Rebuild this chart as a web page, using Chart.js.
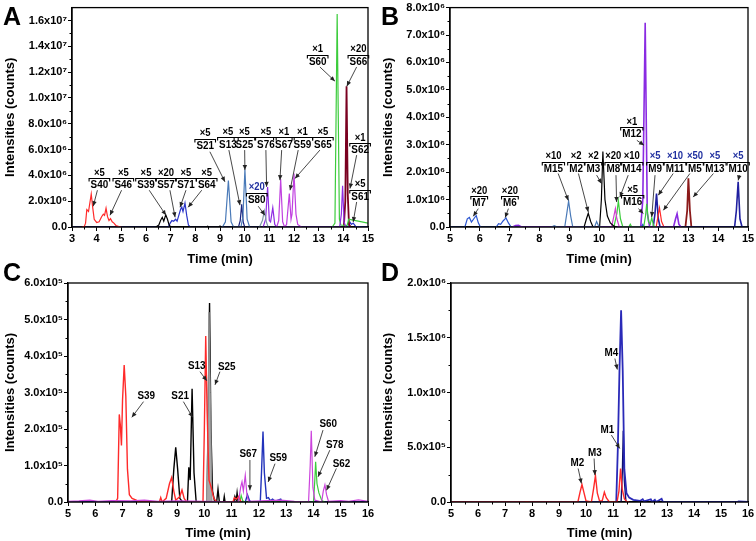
<!DOCTYPE html>
<html><head><meta charset="utf-8">
<script src="https://cdn.jsdelivr.net/npm/chart.js@4.4.1/dist/chart.umd.min.js"></script>
<style>
html,body{margin:0;padding:0;background:#fff;width:756px;height:541px;overflow:hidden}
.p{position:absolute}
.lt{position:absolute;font:bold 25px "Liberation Sans",Arial,sans-serif;color:#000;line-height:1}
</style></head><body>
<div class="p" style="left:0;top:0;width:378px;height:270px"><canvas id="cA" width="378" height="270"></canvas></div>
<div class="p" style="left:378px;top:0;width:378px;height:270px"><canvas id="cB" width="378" height="270"></canvas></div>
<div class="p" style="left:0;top:270px;width:378px;height:271px"><canvas id="cC" width="378" height="271"></canvas></div>
<div class="p" style="left:378px;top:270px;width:378px;height:271px"><canvas id="cD" width="378" height="271"></canvas></div>
<div class="lt" style="left:3px;top:4px">A</div>
<div class="lt" style="left:381px;top:4px">B</div>
<div class="lt" style="left:3px;top:260px">C</div>
<div class="lt" style="left:381px;top:260px">D</div>
<script>
// ---------- Panel A data (time min, intensity counts) ----------
const A_xTicks = [3,4,5,6,7,8,9,10,11,12,13,14,15];
const A_yTicks = [0,2e6,4e6,6e6,8e6,1e7,1.2e7,1.4e7,1.6e7];
const A_yLabels = ['0.0','2.0x10⁶','4.0x10⁶','6.0x10⁶','8.0x10⁶','1.0x10⁷','1.2x10⁷','1.4x10⁷','1.6x10⁷'];
const A_red = [[3.4,0],[3.5,0.05e6],[3.55,0.3e6],[3.6,1.35e6],[3.67,1.2e6],[3.78,2.55e6],[3.84,1.5e6],[3.9,0.6e6],[4.0,0.35e6],[4.1,0.4e6],[4.2,0.8e6],[4.27,1.0e6],[4.32,0.9e6],[4.38,1.45e6],[4.44,0.8e6],[4.5,0.5e6],[4.56,0.65e6],[4.63,0.4e6],[4.7,0.3e6],[4.78,0.12e6],[4.9,0.03e6],[5.0,0]];
const A_black = [[6.4,0],[6.52,0.15e6],[6.6,0.55e6],[6.66,0.75e6],[6.72,0.45e6],[6.8,0.95e6],[6.87,0.6e6],[6.93,0.2e6],[7.0,0],[8.45,0],[8.5,0.06e6],[8.55,0],[8.95,0],[9.0,0.07e6],[9.05,0]];
const A_steel = [[9.1,0],[9.22,0.4e6],[9.34,3.6e6],[9.45,0.4e6],[9.55,0],[9.85,0],[9.93,0.8e6],[10.01,4.45e6],[10.1,0.6e6],[10.2,0]];
const A_navy = [[9.75,0],[9.82,0.5e6],[9.88,1.75e6],[9.94,0.4e6],[10.0,0]];
const A_gray = [[10.6,0],[10.72,0.5e6],[10.8,1.25e6],[10.88,0.4e6],[10.95,0]];
const A_purple = [[10.75,0],[10.85,0.6e6],[10.93,3.1e6],[11.0,0.5e6],[11.05,0.4e6],[11.14,1.5e6],[11.22,0.2e6],[11.3,0],[13.85,0],[13.92,1.0e6],[13.97,3.2e6],[14.03,0.4e6],[14.1,0]];
const A_magenta = [[11.3,0],[11.38,0.5e6],[11.46,3.7e6],[11.54,0.4e6],[11.62,0],[11.7,0.2e6],[11.81,2.6e6],[11.88,0.6e6],[11.92,1.0e6],[12.0,4.15e6],[12.08,1.0e6],[12.15,0.2e6],[12.3,0]];
const A_green = [[13.55,0],[13.66,0.3e6],[13.75,1.65e7],[13.84,0.6e6],[13.9,0.15e6],[14.15,0.1e6],[14.22,0.6e6],[14.35,0.55e6],[14.6,0.45e6],[15,0.3e6]];
const A_darkred = [[14.02,0],[14.08,2e6],[14.13,1.09e7],[14.18,2.5e6],[14.23,0.2e6],[14.3,0]];
const A_blue = [[3,0],[6.9,0],[6.98,0.3e6],[7.05,0.5e6],[7.12,0.45e6],[7.2,0.6e6],[7.26,0.45e6],[7.33,0.9e6],[7.4,1.35e6],[7.45,1.55e6],[7.5,1.2e6],[7.58,1.85e6],[7.65,0.9e6],[7.72,0.15e6],[7.8,0],[14.2,0],[14.28,0.35e6],[14.33,0.2e6],[14.4,0.3e6],[14.5,0.05e6],[15,0]];
// labels: name, multiplier, label point, arrow start, arrow tip (data units), multiplier colour
const A_notes = [
 ['S40','×5',4.11,3.24e6,4.03,2.85e6,3.86,1.61e6],
 ['S46','×5',5.08,3.24e6,5.01,2.85e6,4.54,0.91e6],
 ['S39','×5',6.0,3.24e6,6.13,2.85e6,6.81,0.91e6],
 ['S57','×20',6.81,3.24e6,6.97,2.85e6,7.18,0.75e6],
 ['S71','×5',7.62,3.24e6,7.62,2.85e6,7.38,1.53e6],
 ['S64','×5',8.46,3.24e6,8.26,2.85e6,7.71,1.53e6],
 ['S21','×5',8.40,6.29e6,8.59,5.83e6,9.20,3.50e6],
 ['S13','×5',9.32,6.40e6,9.36,5.96e6,9.81,1.69e6],
 ['S25','×5',9.99,6.40e6,10.0,5.96e6,10.01,4.41e6],
 ['S76','×5',10.86,6.40e6,10.86,5.96e6,10.89,3.11e6],
 ['S67','×1',11.59,6.40e6,11.50,5.96e6,11.43,3.63e6],
 ['S59','×1',12.34,6.40e6,12.17,5.96e6,11.84,2.85e6],
 ['S65','×5',13.17,6.40e6,13.05,5.96e6,12.04,3.76e6],
 ['S80','×20',10.49,2.13e6,10.55,1.61e6,10.82,0.91e6,'#2030a0'],
 ['S62','×1',14.68,5.96e6,14.54,5.57e6,14.27,2.98e6],
 ['S61','×5',14.68,2.33e6,14.54,1.94e6,14.40,0.39e6],
 ['S60','×1',12.96,1.28e7,13.05,1.24e7,13.66,1.13e7],
 ['S66','×20',14.61,1.28e7,14.54,1.24e7,14.14,1.09e7]
];

// ---------- Panel B data ----------
const B_xTicks = [5,6,7,8,9,10,11,12,13,14,15];
const B_yTicks = [0,1e6,2e6,3e6,4e6,5e6,6e6,7e6,8e6];
const B_yLabels = ['0.0','1.0x10⁶','2.0x10⁶','3.0x10⁶','4.0x10⁶','5.0x10⁶','6.0x10⁶','7.0x10⁶','8.0x10⁶'];
const B_steel = [[8.4,0],[8.5,0.05e6],[8.6,0],[8.85,0],[8.92,0.5e6],[8.98,0.95e6],[9.05,0.4e6],[9.12,0],[9.85,0],[9.92,0.2e6],[9.98,0.05e6],[10.05,0]];
const B_black = [[9.5,0],[9.58,0.3e6],[9.64,0.5e6],[9.72,0.2e6],[9.8,0],[10.02,0],[10.08,1.0e6],[10.13,2.75e6],[10.2,1.0e6],[10.28,0.4e6],[10.38,0.15e6],[10.5,0.03e6],[10.6,0]];
const B_magenta = [[10.42,0],[10.5,0.4e6],[10.55,0.67e6],[10.6,0.3e6],[10.68,0]];
const B_green = [[10.5,0],[10.6,0.5e6],[10.65,0.95e6],[10.72,0.3e6],[10.8,0],[11.0,0],[11.05,0.1e6],[11.1,0],[11.5,0],[11.56,0.4e6],[11.6,0.85e6],[11.66,0.2e6],[11.72,0.1e6],[11.77,0.34e6],[11.83,0.05e6],[11.9,0]];
const B_purple = [[7.1,0],[7.2,0.05e6],[7.3,0.06e6],[7.4,0],[11.4,0],[11.47,1.0e6],[11.55,7.45e6],[11.62,0.5e6],[11.7,0],[12.5,0],[12.57,0.3e6],[12.62,0.48e6],[12.68,0.1e6],[12.75,0]];
const B_red = [[11.92,0],[11.98,0.4e6],[12.03,0.7e6],[12.1,0.2e6],[12.18,0]];
const B_navy = [[11.82,0],[11.88,0.5e6],[11.93,1.22e6],[11.99,0.3e6],[12.05,0],[14.55,0],[14.61,0.6e6],[14.67,1.65e6],[14.73,0.3e6],[14.8,0]];
const B_darkred = [[12.9,0],[12.96,0.6e6],[13.0,1.78e6],[13.05,0.6e6],[13.1,0]];
const B_blue = [[5,0],[5.5,0],[5.58,0.3e6],[5.65,0.35e6],[5.72,0.18e6],[5.8,0.3e6],[5.88,0.42e6],[5.95,0.15e6],[6.02,0],[6.55,0],[6.63,0.12e6],[6.7,0.1e6],[6.78,0.22e6],[6.88,0.33e6],[6.96,0.15e6],[7.05,0],[11.4,0],[11.47,0.1e6],[11.52,0],[15,0]];
const B_notes = [
 ['M7','×20',5.98,0.876e6,5.95,0.67e6,5.78,0.39e6],
 ['M6','×20',7.01,0.876e6,6.96,0.67e6,6.85,0.34e6],
 ['M15','×10',8.47,2.13e6,8.63,1.95e6,8.97,0.97e6],
 ['M2','×2',9.23,2.13e6,9.31,1.95e6,9.64,0.55e6],
 ['M3','×2',9.81,2.13e6,9.92,1.89e6,10.09,1.58e6],
 ['M8','×20',10.48,2.13e6,10.57,1.89e6,10.59,0.91e6],
 ['M14','×10',11.10,2.13e6,10.98,1.89e6,10.70,1.09e6],
 ['M16','×5',11.13,0.91e6,11.32,0.67e6,11.49,0.49e6],
 ['M12','×1',11.10,3.38e6,11.27,3.16e6,11.51,2.98e6],
 ['M9','×5',11.88,2.13e6,11.88,1.89e6,11.77,0.365e6,'#2030a0'],
 ['M11','×10',12.55,2.13e6,12.49,1.95e6,11.99,1.16e6,'#2030a0'],
 ['M5','×50',13.22,2.13e6,13.05,1.95e6,12.16,0.61e6,'#2030a0'],
 ['M13','×5',13.89,2.13e6,13.84,1.95e6,13.16,1.09e6,'#2030a0'],
 ['M10','×5',14.67,2.13e6,14.71,1.89e6,14.67,1.70e6,'#2030a0']
];

// ---------- Panel C data ----------
const C_xTicks = [5,6,7,8,9,10,11,12,13,14,15,16];
const C_yTicks = [0,1e5,2e5,3e5,4e5,5e5,6e5];
const C_yLabels = ['0.0','1.0x10⁵','2.0x10⁵','3.0x10⁵','4.0x10⁵','5.0x10⁵','6.0x10⁵'];
const C_magenta = [[5,0.02e5],[5.4,0.03e5],[5.8,0.05e5],[6.1,0.02e5],[6.6,0.04e5],[7.3,0.03e5],[7.8,0.05e5],[8.3,0.02e5],[9.0,0.03e5],[10.0,0.02e5],[11.25,0],[11.33,0.4e5],[11.38,0.55e5],[11.43,0.3e5],[11.5,0.73e5],[11.56,0.2e5],[11.62,0.02e5],[12.8,0.05e5],[13.3,0.02e5],[13.82,0],[13.88,1.0e5],[13.92,1.95e5],[13.98,0.4e5],[14.05,0.05e5],[14.3,0],[14.36,0.3e5],[14.42,0.47e5],[14.48,0.2e5],[14.55,0.02e5],[15.0,0.04e5],[15.3,0.02e5],[15.65,0.06e5],[16,0.02e5]];
const C_red = [[6.75,0],[6.82,0.1e5],[6.88,2.4e5],[6.92,2.1e5],[6.96,1.55e5],[7.0,2.8e5],[7.06,3.75e5],[7.12,2.9e5],[7.18,0.9e5],[7.25,0.2e5],[7.35,0.1e5],[7.5,0.05e5],[7.6,0],[8.35,0],[8.4,0.12e5],[8.45,0],[8.6,0.1e5],[8.72,0.5e5],[8.8,0.67e5],[8.88,0.3e5],[8.95,0.05e5],[9.1,0.15e5],[9.18,0.33e5],[9.26,0.1e5],[9.35,0],[9.95,0],[10.0,2.0e5],[10.05,4.55e5],[10.1,2.5e5],[10.17,0.6e5],[10.25,0.4e5],[10.35,0.1e5],[10.45,0],[11.05,0],[11.1,0.12e5],[11.18,0.08e5],[11.25,0.15e5],[11.35,0]];
const C_gray = [[10.08,0],[10.14,2.5e5],[10.17,5.2e5],[10.22,3.0e5],[10.28,0]];
const C_black = [[8.8,0],[8.88,0.9e5],[8.95,1.5e5],[9.02,0.9e5],[9.1,0.1e5],[9.2,0],[9.38,0],[9.43,0.95e5],[9.48,0.6e5],[9.55,3.1e5],[9.62,0.8e5],[9.7,0],[10.1,0],[10.15,3.0e5],[10.19,5.45e5],[10.24,2.0e5],[10.3,0.3e5],[10.38,0],[10.45,0],[10.5,0.35e5],[10.55,0],[10.7,0],[10.73,0.15e5],[10.76,0],[11.08,0],[11.12,0.15e5],[11.17,0.05e5],[11.2,0.25e5],[11.24,0]];
const C_green = [[11.3,0],[11.35,0.18e5],[11.4,0.05e5],[11.45,0],[14.0,0],[14.05,0.6e5],[14.08,1.1e5],[14.13,0.5e5],[14.2,0.25e5],[14.3,0.05e5],[14.4,0]];
const C_blue = [[5,0],[11.5,0],[11.58,0.2e5],[11.65,0.05e5],[11.7,0],[12.05,0],[12.1,0.9e5],[12.15,1.93e5],[12.2,0.8e5],[12.28,0.1e5],[12.35,0.12e5],[12.42,0.03e5],[12.5,0.08e5],[12.6,0.02e5],[12.8,0.08e5],[12.85,0],[16,0]];
const C_notes = [
 ['S39','',7.87,2.90e5,7.77,2.75e5,7.34,2.32e5],
 ['S21','',9.11,2.90e5,9.23,2.75e5,9.57,2.32e5],
 ['S13','',9.72,3.73e5,9.84,3.57e5,10.09,3.32e5],
 ['S25','',10.82,3.71e5,10.57,3.57e5,10.39,3.21e5],
 ['S67','',11.61,1.31e5,11.67,1.15e5,11.67,0.32e5],
 ['S59','',12.71,1.22e5,12.59,1.05e5,12.34,0.55e5],
 ['S60','',14.54,2.15e5,14.35,1.97e5,14.05,1.24e5],
 ['S78','',14.78,1.58e5,14.60,1.42e5,14.17,0.69e5],
 ['S62','',15.03,1.05e5,14.84,0.92e5,14.48,0.32e5]
];

// ---------- Panel D data ----------
const D_xTicks = [5,6,7,8,9,10,11,12,13,14,15,16];
const D_yTicks = [0,5e5,1e6,1.5e6,2e6];
const D_yLabels = ['0.0','5.0x10⁵','1.0x10⁶','1.5x10⁶','2.0x10⁶'];
const D_red = [[5,0],[7.7,0],[7.8,0.03e5],[7.9,0],[9.7,0],[9.78,0.9e5],[9.85,1.6e5],[9.92,0.9e5],[10.0,0.1e5],[10.2,0],[10.28,1.2e5],[10.35,2.4e5],[10.42,0.8e5],[10.5,0.1e5],[10.6,0.1e5],[10.68,0.9e5],[10.75,0.4e5],[10.85,0.05e5],[11.15,0],[11.22,1.0e5],[11.28,3.05e5],[11.34,1.2e5],[11.42,0.3e5],[11.5,0.05e5],[11.6,0]];
const D_blue = [[5,0],[11.12,0],[11.18,5e5],[11.24,1.2e6],[11.3,1.75e6],[11.36,1.2e6],[11.42,3e5],[11.5,0.8e5],[11.6,0.4e5],[11.75,0.2e5],[12.0,0.1e5],[12.1,0.25e5],[12.15,0.05e5],[12.4,0.25e5],[12.45,0],[12.55,0.2e5],[12.6,0],[12.8,0.3e5],[12.85,0],[15.6,0],[15.65,0.05e5],[16,0]];
const D_navy = [[11.3,0],[11.35,3e5],[11.38,6.5e5],[11.42,2e5],[11.48,0]];
const D_notes = [
 ['M4','',10.94,1.365e6,11.07,1.31e6,11.16,1.21e6],
 ['M1','',10.79,6.63e5,10.94,6.11e5,11.25,4.89e5],
 ['M3','',10.33,4.49e5,10.30,3.97e5,10.33,2.45e5],
 ['M2','',9.68,3.61e5,9.71,3.06e5,9.83,1.69e5]
];

// ---------- drawing ----------
const FONT = '"Liberation Sans", Arial, sans-serif';
Chart.defaults.font.family = FONT;
Chart.defaults.color = '#000';

const framePlugin = {
  id: 'frame',
  afterDatasetsDraw(chart) {
    const ctx = chart.ctx, a = chart.chartArea, xs = chart.scales.x, ys = chart.scales.y;
    ctx.save();
    ctx.strokeStyle = '#000'; ctx.lineWidth = 1.3;
    ctx.strokeRect(a.left, a.top, a.right - a.left, a.bottom - a.top);
    ctx.lineWidth = 1;
    const xt = xs.ticks.map(t => t.value), yt = ys.ticks.map(t => t.value);
    for (let i = 0; i < xt.length - 1; i++) {
      const px = Math.round(xs.getPixelForValue((xt[i] + xt[i+1]) / 2)) + 0.5;
      ctx.beginPath(); ctx.moveTo(px, a.bottom); ctx.lineTo(px, a.bottom + 2.5); ctx.stroke();
    }
    for (let i = 0; i < yt.length - 1; i++) {
      const py = Math.round(ys.getPixelForValue((yt[i] + yt[i+1]) / 2)) + 0.5;
      ctx.beginPath(); ctx.moveTo(a.left, py); ctx.lineTo(a.left - 2.5, py); ctx.stroke();
    }
    ctx.restore();
  }
};

function condensedText(ctx, txt, x, y, sx) {
  ctx.save(); ctx.translate(x, y); ctx.scale(sx, 1); ctx.fillText(txt, 0, 0); ctx.restore();
}

const notesPlugin = {
  id: 'notes',
  afterDatasetsDraw(chart, args, o) {
    const ctx = chart.ctx, xs = chart.scales.x, ys = chart.scales.y;
    const SX = o.squeeze;
    ctx.save();
    for (const n of o.items) {
      const [name, mult, lx, ly, sx0, sy0, tx0, ty0, mc] = n;
      const nx = xs.getPixelForValue(lx), ny = ys.getPixelForValue(ly);
      const sx = xs.getPixelForValue(sx0), sy = ys.getPixelForValue(sy0);
      const tx = xs.getPixelForValue(tx0), ty = ys.getPixelForValue(ty0);
      ctx.strokeStyle = '#333'; ctx.fillStyle = '#222'; ctx.lineWidth = 0.9;
      ctx.beginPath(); ctx.moveTo(sx, sy); ctx.lineTo(tx, ty); ctx.stroke();
      const ang = Math.atan2(ty - sy, tx - sx), L = 5, W = 2.2;
      ctx.beginPath();
      ctx.moveTo(tx, ty);
      ctx.lineTo(tx - L * Math.cos(ang) + W * Math.sin(ang), ty - L * Math.sin(ang) - W * Math.cos(ang));
      ctx.lineTo(tx - L * Math.cos(ang) - W * Math.sin(ang), ty - L * Math.sin(ang) + W * Math.cos(ang));
      ctx.closePath(); ctx.fill();
      ctx.font = 'bold ' + o.size + 'px ' + FONT;
      ctx.textAlign = 'center'; ctx.textBaseline = 'middle';
      ctx.fillStyle = '#000';
      condensedText(ctx, name, nx, ny, SX);
      if (mult) {
        const w = ctx.measureText(name).width * SX + 3;
        const by = Math.round(ny - 7) + 0.5;
        ctx.strokeStyle = '#000'; ctx.lineWidth = 1.1;
        ctx.beginPath();
        ctx.moveTo(nx - w / 2, by + 3); ctx.lineTo(nx - w / 2, by);
        ctx.lineTo(nx + w / 2, by); ctx.lineTo(nx + w / 2, by + 3);
        ctx.stroke();
        ctx.font = 'bold ' + (o.size - 0.5) + 'px ' + FONT;
        ctx.fillStyle = mc || '#000';
        condensedText(ctx, mult, nx, ny - 12.5, SX);
      }
    }
    ctx.restore();
  }
};

function ds(pairs, color, width, fillColor) {
  return {
    data: pairs.map(p => ({x: p[0], y: p[1]})),
    borderColor: color, borderWidth: width || 1.2,
    pointRadius: 0, tension: 0,
    fill: fillColor ? 'origin' : false,
    backgroundColor: fillColor || 'transparent'
  };
}

function panel(id, datasets, xr, xTicks, yMax, yTicks, yLabels, notes, box) {
  new Chart(document.getElementById(id), {
    type: 'line',
    data: { datasets },
    plugins: [framePlugin, notesPlugin],
    options: {
      responsive: false, animation: false, events: [],
      layout: { padding: { top: box.top, right: box.right, bottom: box.bottom, left: 0 } },
      plugins: { legend: { display: false }, tooltip: { enabled: false },
        notes: { items: notes, size: box.fs, squeeze: 0.86 } },
      scales: {
        x: {
          type: 'linear', min: xr[0], max: xr[1],
          afterBuildTicks: s => { s.ticks = xTicks.map(v => ({ value: v })); },
          afterFit: s => { s.height = box.xH; },
          ticks: { callback: v => String(v), font: { size: 11, weight: 'bold' }, color: '#000', padding: 1, maxRotation: 0, autoSkip: false },
          grid: { drawOnChartArea: false, tickLength: 4, tickColor: '#000', tickWidth: 1 },
          border: { color: '#000', width: 1.3 },
          title: { display: true, text: 'Time (min)', color: '#000', font: { size: 13, weight: 'bold' }, padding: { top: 2, bottom: 0 } }
        },
        y: {
          type: 'linear', min: 0, max: yMax,
          afterBuildTicks: s => { s.ticks = yTicks.map(v => ({ value: v })); },
          afterFit: s => { s.width = box.yW; },
          ticks: { callback: (v, i) => yLabels[i], font: { size: 11, weight: 'bold' }, color: '#000', padding: 1, autoSkip: false },
          grid: { drawOnChartArea: false, tickLength: 4, tickColor: '#000', tickWidth: 1 },
          border: { color: '#000', width: 1.3 },
          title: { display: true, text: 'Intensities (counts)', color: '#000', font: { size: 13, weight: 'bold' }, padding: { top: 3, bottom: 0 } }
        }
      }
    }
  });
}

panel('cA', [
  ds(A_red, '#ff2a2a'), ds(A_black, '#000'), ds(A_steel, '#4a7ab8'), ds(A_navy, '#1a237e'),
  ds(A_gray, '#7f9aa8'), ds(A_purple, '#8e2de2'), ds(A_magenta, '#c040e0'),
  ds(A_green, '#3ccc3c'), ds(A_darkred, '#7a0020', 1.8), ds(A_blue, '#2a35c8')
], [3, 15], A_xTicks, 1.7e7, A_yTicks, A_yLabels, A_notes,
  { top: 7, right: 10, bottom: 3, xH: 40, yW: 72, fs: 11.5 });

panel('cB', [
  ds(B_steel, '#4a7ab8'), ds(B_black, '#000'), ds(B_magenta, '#d040d0'), ds(B_green, '#3ccc3c'),
  ds(B_purple, '#8a2be2', 1.6), ds(B_red, '#ff2a2a'), ds(B_navy, '#2020a0', 1.6),
  ds(B_darkred, '#8b1a1a', 1.8), ds(B_blue, '#2a55d0')
], [5, 15], B_xTicks, 8e6, B_yTicks, B_yLabels, B_notes,
  { top: 7, right: 8, bottom: 3, xH: 40, yW: 72, fs: 11.5 });

panel('cC', [
  ds(C_magenta, '#cc44dd'), ds(C_red, '#ff2a2a', 1.4), ds(C_gray, '#909090', 1, '#a8a8a8'),
  ds(C_black, '#000', 1.4), ds(C_green, '#3ccc3c'), ds(C_blue, '#2233bb', 1.4)
], [5, 16], C_xTicks, 6e5, C_yTicks, C_yLabels, C_notes,
  { top: 13, right: 10, bottom: 0, xH: 39, yW: 68, fs: 11.5 });

panel('cD', [
  ds(D_red, '#ff2a2a', 1.4), ds(D_blue, '#2a2ab8', 1.8), ds(D_navy, '#101070', 1.4)
], [5, 16], D_xTicks, 2e6, D_yTicks, D_yLabels, D_notes,
  { top: 13, right: 8, bottom: 0, xH: 39, yW: 73, fs: 11.5 });
</script>
</body></html>
